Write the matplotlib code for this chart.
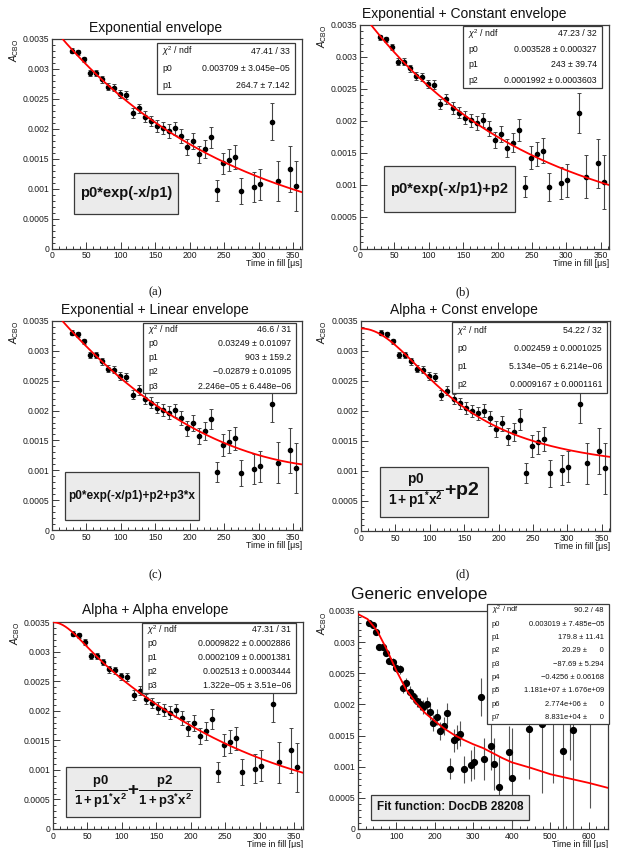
import numpy as np
import matplotlib
matplotlib.use('Agg')
import matplotlib.pyplot as plt
from matplotlib.patches import Rectangle
from matplotlib.ticker import MultipleLocator, FixedLocator

plt.rcParams['font.family'] = ['Liberation Sans', 'DejaVu Sans']
plt.rcParams['mathtext.fontset'] = 'custom'
plt.rcParams['mathtext.rm'] = 'Liberation Sans'
plt.rcParams['mathtext.it'] = 'Liberation Sans:italic'
plt.rcParams['mathtext.bf'] = 'Liberation Sans:bold'

# ---------------- data ----------------
time_us = [29.5, 37.8, 46.6, 55.4, 64.2, 73.0, 81.8, 90.5, 99.3, 108.1, 116.9, 125.7,
           134.5, 143.3, 152.1, 160.9, 169.6, 178.4, 187.2, 196.0, 204.8, 213.6, 222.4,
           231.2, 240.0, 248.8, 257.5, 266.3, 275.1, 292.7, 301.5, 319.1, 327.9, 345.4, 354.2]
a_cbo = [0.003305, 0.003277, 0.00316, 0.002926, 0.002926, 0.002826, 0.002703, 0.002686,
         0.00258, 0.002564, 0.002268, 0.002341, 0.002201, 0.002129, 0.002051, 0.002006,
         0.001962, 0.002006, 0.001878, 0.0017, 0.001795, 0.001572, 0.001655, 0.001856,
         0.00097, 0.001421, 0.001477, 0.001533, 0.000959, 0.00102, 0.00107, 0.002118,
         0.001126, 0.001332, 0.001042]
a_err = [0.00004, 0.00004, 0.000045, 0.00005, 0.00005, 0.000055, 0.00006, 0.00006,
         0.000065, 0.00007, 0.00008, 0.00008, 0.00009, 0.00009, 0.0001, 0.0001,
         0.00011, 0.00011, 0.00012, 0.00013, 0.00013, 0.00014, 0.00015, 0.00017,
         0.00017, 0.00018, 0.00019, 0.0002, 0.00022, 0.00025, 0.00026, 0.00031,
         0.00034, 0.00038, 0.00042]

# extra points of the generic-envelope panel (beyond 360 us)
time_ext = [366, 392, 401, 445, 478, 507, 533, 552, 559, 604]
a_ext = [0.00067, 0.00123, 0.00082, 0.00161, 0.00168, 0.0023, 0.00126, 0.0025, 0.00159, 0.0021]
err_ext = [0.0005, 0.00042, 0.0008, 0.0008, 0.0011, 0.00156, 0.0014, 0.0014, 0.0017, 0.00176]

# generic envelope fit curve
generic_t = [0, 25, 50, 75, 100, 125, 150, 175, 200, 225, 250, 275, 300, 325, 350,
             375, 400, 450, 500, 550, 600, 650]
generic_fit = [0.00345, 0.00337, 0.00318, 0.00288, 0.00254, 0.00224, 0.00203, 0.00186,
               0.00173, 0.00161, 0.00151, 0.00143, 0.00136, 0.0013, 0.00122, 0.00114,
               0.00107, 0.00098, 0.00088, 0.00081, 0.00074, 0.00066]

# fit parameters
par_a = [0.003709, 264.7]
par_b = [0.003528, 243.0, 0.0001992]
par_c = [0.03249, 903.0, -0.02879, 2.246e-05]
par_d = [0.002459, 5.134e-05, 0.0009167]
par_e = [0.0009822, 0.0002109, 0.002513, 1.322e-05]

titles = ['Exponential envelope', 'Exponential + Constant envelope',
          'Exponential + Linear envelope', 'Alpha + Const envelope',
          'Alpha + Alpha envelope', 'Generic envelope']
captions = ['(a)', '(b)', '(c)', '(d)']
chi_label = r'$\chi^{2}$ / ndf'
stats = [
    [(chi_label, '47.41 / 33'), ('p0', '0.003709 ± 3.045e\u221205'), ('p1', '264.7 ± 7.142')],
    [(chi_label, '47.23 / 32'), ('p0', '0.003528 ± 0.000327'), ('p1', '243 ± 39.74'),
     ('p2', '0.0001992 ± 0.0003603')],
    [(chi_label, '46.6 / 31'), ('p0', '0.03249 ± 0.01097'), ('p1', '903 ± 159.2'),
     ('p2', '\u22120.02879 ± 0.01095'), ('p3', '2.246e\u221205 ± 6.448e\u221206')],
    [(chi_label, '54.22 / 32'), ('p0', '0.002459 ± 0.0001025'),
     ('p1', '5.134e\u221205 ± 6.214e\u221206'), ('p2', '0.0009167 ± 0.0001161')],
    [(chi_label, '47.31 / 31'), ('p0', '0.0009822 ± 0.0002886'), ('p1', '0.0002109 ± 0.0001381'),
     ('p2', '0.002513 ± 0.0003444'), ('p3', '1.322e\u221205 ± 3.51e\u221206')],
    [(chi_label, '90.2 / 48'), ('p0', '0.003019 ± 7.485e\u221205'), ('p1', '179.8 ± 11.41'),
     ('p2', '20.29 ±      0'), ('p3', '\u221287.69 ± 5.294'), ('p4', '\u22120.4256 ± 0.06168'),
     ('p5', '1.181e+07 ± 1.676e+09'), ('p6', '2.774e+06 ±      0'), ('p7', '8.831e+04 ±      0')],
]
formulas = ['p0*exp(-x/p1)', 'p0*exp(-x/p1)+p2', 'p0*exp(-x/p1)+p2+p3*x',
            r'$\mathbf{\frac{p0}{1+p1^{*}x^{2}}{+}p2}$',
            r'$\mathbf{\frac{p0}{1+p1^{*}x^{2}}{+}\frac{p2}{1+p3^{*}x^{2}}}$',
            'Fit function: DocDB 28208']
y_tick_vals = [0, 0.0005, 0.001, 0.0015, 0.002, 0.0025, 0.003, 0.0035]
y_tick_labels = ['0', '0.0005', '0.001', '0.0015', '0.002', '0.0025', '0.003', '0.0035']


def f_a(x, p):
    return p[0] * np.exp(-x / p[1])


def f_b(x, p):
    return p[0] * np.exp(-x / p[1]) + p[2]


def f_c(x, p):
    return p[0] * np.exp(-x / p[1]) + p[2] + p[3] * x


def f_d(x, p):
    return p[0] / (1 + p[1] * x ** 2) + p[2]


def f_e(x, p):
    return p[0] / (1 + p[1] * x ** 2) + p[2] / (1 + p[3] * x ** 2)


# ---------------- layout (pixels) ----------------
W, H = 632, 848
fig = plt.figure(figsize=(W / 100, H / 100), dpi=100)
fig.patch.set_facecolor('white')


def fx(x):
    return x / W


def fy(y):
    return 1 - y / H


panels = [
    dict(frame=(52, 302, 39, 248.5), xmax=363, title=(156, 28, 10), ylab=(14, 39),
         stats=(157, 295, 43, 94), form=(74, 178, 173, 214, 10.5), cap=(155, 292),
         fit=(f_a, par_a)),
    dict(frame=(360, 609, 25, 248.5), xmax=362, title=(464, 14, 10), ylab=(322, 25),
         stats=(463, 602, 26, 88), form=(384, 515, 166, 212, 10.5), cap=(463, 292),
         fit=(f_b, par_b)),
    dict(frame=(52, 302, 321, 530), xmax=363, title=(155, 310, 10), ylab=(14, 321),
         stats=(143, 296, 323, 393), form=(65, 199, 472, 520, 8.5), cap=(155, 575),
         fit=(f_c, par_c)),
    dict(frame=(361, 610, 321, 531), xmax=362, title=(464, 310, 10), ylab=(322, 321),
         stats=(452, 607, 322, 393), form=(380, 488, 467, 517, 14), cap=(463, 574),
         fit=(f_d, par_d)),
    dict(frame=(53, 303, 622, 829), xmax=363, title=(155, 610, 10), ylab=(15, 622),
         stats=(142, 296, 623, 693), form=(66, 200, 767, 817, 13.5), cap=None,
         fit=(f_e, par_e)),
    dict(frame=(358, 608, 611, 829), xmax=650, title=(419, 595, 12.5), ylab=(322, 612),
         stats=(487, 609, 604, 724), form=(371, 529, 795, 820, 8.5), cap=None,
         fit=None),
]

frame_col = '#3a3a3a'

for i, P in enumerate(panels):
    L, R, T, B = P['frame']
    ax = fig.add_axes([fx(L), fy(B), (R - L) / W, (B - T) / H])
    ax.set_xlim(0, P['xmax'])
    ax.set_ylim(0, 0.0035)
    for s in ax.spines.values():
        s.set_color(frame_col)
        s.set_linewidth(0.9)
    ax.yaxis.set_major_locator(FixedLocator(y_tick_vals))
    ax.set_yticklabels(y_tick_labels)
    ax.yaxis.set_minor_locator(MultipleLocator(0.0001))
    if i == 5:
        ax.xaxis.set_major_locator(MultipleLocator(100))
        ax.xaxis.set_minor_locator(MultipleLocator(20))
    else:
        ax.xaxis.set_major_locator(MultipleLocator(50))
        ax.xaxis.set_minor_locator(MultipleLocator(10))
    ax.tick_params(which='both', direction='in', colors=frame_col, labelcolor='#1a1a1a',
                   labelsize=6.2, width=0.7, top=False, right=False)
    ax.tick_params(which='major', length=5, pad=2)
    ax.tick_params(which='minor', length=2.5)

    if i == 5:
        xs = time_us + time_ext
        ys = a_cbo + a_ext
        es = a_err + err_ext
        ax.errorbar(xs, ys, yerr=es, fmt='o', color='black', ms=4.2, ecolor='#555555',
                    elinewidth=0.8, capsize=0, zorder=3)
        ax.plot(generic_t, generic_fit, color='#ff0000', lw=1.3, zorder=4)
    else:
        ax.errorbar(time_us, a_cbo, yerr=a_err, fmt='o', color='black', ms=3,
                    ecolor='#444444', elinewidth=0.8, capsize=1.3, capthick=0.7, zorder=3)
        func, par = P['fit']
        xx = np.linspace(0, P['xmax'], 400)
        ax.plot(xx, func(xx, par), color='#ff0000', lw=1.3, zorder=4)

    # titles / labels
    tx, ty, ts = P['title']
    fig.text(fx(tx), fy(ty), titles[i], ha='center', va='center', fontsize=ts, color='#111111')
    lx, ly = P['ylab']
    fig.text(fx(lx), fy(ly), r'$A_{\rm CBO}$', rotation=90, ha='center', va='top',
             fontsize=7, color='#111111')
    fig.text(fx(R), fy(B + 11), 'Time in fill [\u03bcs]', ha='right', va='top',
             fontsize=6.3, color='#111111')

    # stats box
    sL, sR, sT, sB = P['stats']
    fig.add_artist(Rectangle((fx(sL), fy(sB)), (sR - sL) / W, (sB - sT) / H,
                             transform=fig.transFigure, facecolor='white',
                             edgecolor=frame_col, lw=0.9, zorder=10))
    rows = stats[i]
    n = len(rows)
    rh = (sB - sT) / n
    fsz = 5.4 if i == 5 else 6.3
    for k, (lab, val) in enumerate(rows):
        yc = sT + (k + 0.5) * rh
        fig.text(fx(sL + 5), fy(yc), lab, ha='left', va='center', fontsize=fsz,
                 color='#111111', zorder=11)
        fig.text(fx(sR - 5), fy(yc), val, ha='right', va='center', fontsize=fsz,
                 color='#111111', zorder=11)

    # formula box
    bL, bR, bT, bB, bfs = P['form']
    fig.add_artist(Rectangle((fx(bL), fy(bB)), (bR - bL) / W, (bB - bT) / H,
                             transform=fig.transFigure, facecolor='#ebebeb',
                             edgecolor=frame_col, lw=0.9, zorder=10))
    fig.text(fx((bL + bR) / 2), fy((bT + bB) / 2), formulas[i], ha='center', va='center',
             fontsize=bfs, fontweight='bold', color='#111111', zorder=11)

    if P['cap'] is not None:
        cx, cy = P['cap']
        fig.text(fx(cx), fy(cy), captions[i], ha='center', va='center', fontsize=9,
                 family=['Liberation Serif', 'DejaVu Serif'], color='#111111')

fig.savefig('out.png', dpi=100)
